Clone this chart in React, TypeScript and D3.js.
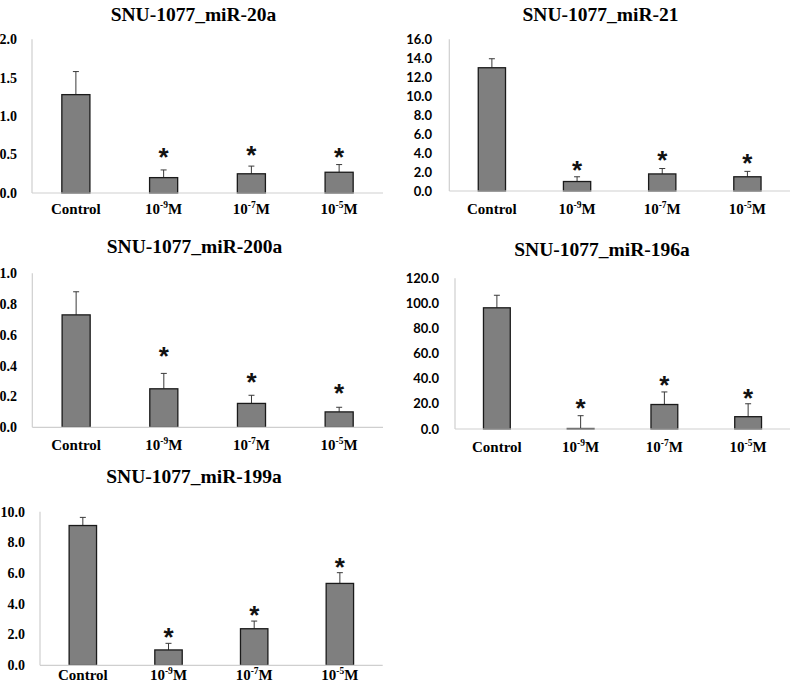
import * as d3 from 'd3'

const categories = ['Control', '10-9M', '10-7M', '10-5M']

const titles = ['SNU-1077_miR-20a', 'SNU-1077_miR-21', 'SNU-1077_miR-200a', 'SNU-1077_miR-196a', 'SNU-1077_miR-199a']

const miR20aValues = [1.28, 0.2, 0.25, 0.27]
const miR20aErrors = [0.3, 0.1, 0.1, 0.1]
const miR20aStars = [null, 0.54, 0.57, 0.54]

const miR21Values = [13.0, 1.0, 1.8, 1.5]
const miR21Errors = [0.95, 0.5, 0.57, 0.57]
const miR21Stars = [null, 2.8, 3.9, 3.6]

const miR200aValues = [0.73, 0.25, 0.155, 0.1]
const miR200aErrors = [0.15, 0.1, 0.053, 0.03]
const miR200aStars = [null, 0.5, 0.33, 0.26]

const miR196aValues = [96.5, 0.4, 19.5, 9.8]
const miR196aErrors = [10, 10.2, 10, 10.3]
const miR196aStars = [null, 21.3, 39.8, 29.2]

const miR199aValues = [9.1, 1.0, 2.38, 5.33]
const miR199aErrors = [0.53, 0.43, 0.5, 0.7]
const miR199aStars = [null, 2.2, 3.67, 6.8]

const yMax = [2, 16, 1, 120, 10]
const yTickCount = [4, 8, 5, 6, 5]

const serif = '"Liberation Serif", "Times New Roman", serif'
const sans = 'Lato, "Liberation Sans", sans-serif'

// layout of each small chart on the page
const layouts = [
  { x0: 32, x1: 383, yTop: 39.3, yBase: 193, titleX: 193.5, titleY: 20.7, labelY: 214, tickRight: 17, tickFont: serif },
  { x0: 449.3, x1: 790, yTop: 39.3, yBase: 191, titleX: 600.5, titleY: 21, labelY: 214, tickRight: 432, tickFont: sans },
  { x0: 32.3, x1: 383, yTop: 273.3, yBase: 427.3, titleX: 194.5, titleY: 252.7, labelY: 450, tickRight: 17, tickFont: serif },
  { x0: 455, x1: 790, yTop: 278.3, yBase: 429, titleX: 602, titleY: 256, labelY: 451.5, tickRight: 439, tickFont: sans },
  { x0: 40, x1: 382.7, yTop: 511.7, yBase: 665.3, titleX: 194, titleY: 483.3, labelY: 679.5, tickRight: 25, tickFont: serif },
]

const panels = [
  { values: miR20aValues, errors: miR20aErrors, stars: miR20aStars },
  { values: miR21Values, errors: miR21Errors, stars: miR21Stars },
  { values: miR200aValues, errors: miR200aErrors, stars: miR200aStars },
  { values: miR196aValues, errors: miR196aErrors, stars: miR196aStars },
  { values: miR199aValues, errors: miR199aErrors, stars: miR199aStars },
]

function CategoryLabel({ label, x, y }) {
  const m = label.match(/^10(-\d+)M$/)
  return (
    <text x={x} y={y} textAnchor="middle" fontFamily={serif} fontWeight="bold" fontSize={15} fill="#000">
      {m ? (
        <>
          <tspan>10</tspan>
          <tspan fontSize={9.5} dy={-6}>{m[1]}</tspan>
          <tspan dy={6}>M</tspan>
        </>
      ) : label}
    </text>
  )
}

function Panel({ idx }) {
  const lay = layouts[idx]
  const { values, errors, stars } = panels[idx]

  const x = d3.scaleBand().domain(categories).range([lay.x0, lay.x1]).paddingInner(0.68).paddingOuter(0.34)
  const y = d3.scaleLinear().domain([0, yMax[idx]]).range([lay.yBase, lay.yTop])
  const ticks = d3.ticks(0, yMax[idx], yTickCount[idx])
  const bw = x.bandwidth()
  const cap = 3

  return (
    <g>
      <text x={lay.titleX} y={lay.titleY} textAnchor="middle" fontFamily={serif} fontWeight="bold" fontSize={19.5}>
        {titles[idx]}
      </text>
      {ticks.map(t => (
        <text key={t} x={lay.tickRight} y={y(t)} dy="0.35em" textAnchor="end"
          fontFamily={lay.tickFont} fontWeight="bold" fontSize={lay.tickFont === serif ? 14 : 13} fill="#000">
          {t.toFixed(1)}
        </text>
      ))}
      <line x1={lay.x0} x2={lay.x0} y1={y(yMax[idx])} y2={lay.yBase} stroke="#cfcfcf" strokeWidth={1.2} />
      {categories.map((c, i) => {
        const cx = x(c) + bw / 2
        const top = y(values[i] + errors[i])
        return (
          <g key={c}>
            <line x1={cx} x2={cx} y1={y(values[i])} y2={top} stroke="#3a3a3a" strokeWidth={1} />
            <line x1={cx - cap} x2={cx + cap} y1={top} y2={top} stroke="#3a3a3a" strokeWidth={1} />
            <rect x={x(c)} y={y(values[i])} width={bw} height={lay.yBase - y(values[i])}
              fill="#7f7f7f" stroke="#1a1a1a" strokeWidth={1.3} />
            {stars[i] != null && (
              <text x={cx} y={y(stars[i]) + 0.57 * 26} textAnchor="middle" fontFamily='"Liberation Sans", Arial, sans-serif'
                fontWeight="bold" fontSize={26} fill="#111">*</text>
            )}
            <CategoryLabel label={c} x={cx} y={lay.labelY} />
          </g>
        )
      })}
      <line x1={lay.x0} x2={lay.x1} y1={lay.yBase} y2={lay.yBase} stroke="#cfcfcf" strokeWidth={1.2} />
    </g>
  )
}

export default function App() {
  return (
    <svg width={798} height={697} style={{ position: 'absolute', left: 0, top: 0, background: '#fff' }}>
      {panels.map((p, i) => <Panel key={i} idx={i} />)}
    </svg>
  )
}
